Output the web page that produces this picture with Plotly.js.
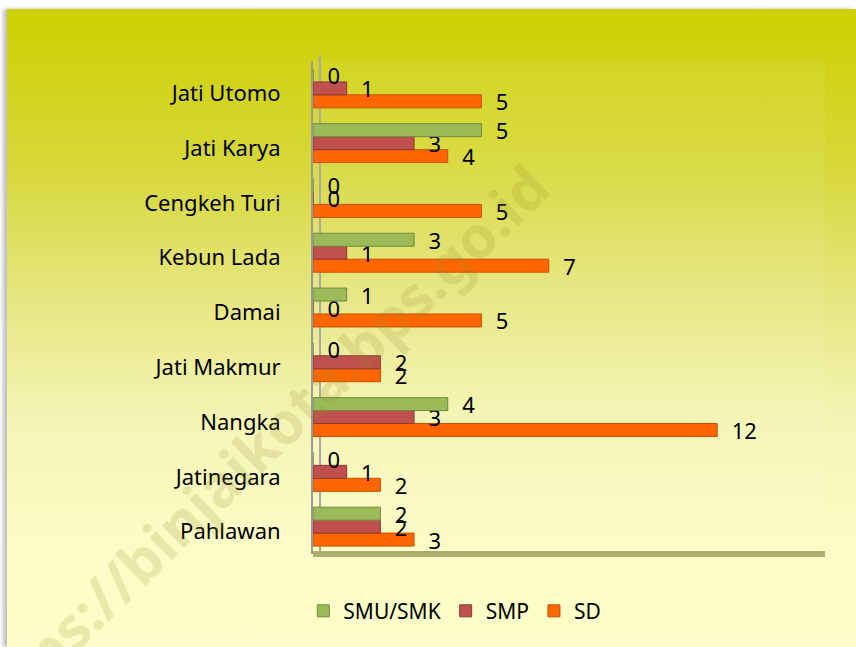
<!DOCTYPE html>
<html>
<head>
<meta charset="utf-8">
<script src="https://cdn.plot.ly/plotly-3.0.1.min.js"></script>
<style>
  html, body { margin:0; padding:0; background:#ffffff; }
  #bg { position:absolute; left:7px; top:9px; width:849px; height:638px;
        background: linear-gradient(to bottom, #cdd000 0%, #d6d83a 25%, #e6e680 45%, #f5f5b6 65%, #fcfcc6 85%, #fdfdc9 100%);
        box-shadow: -4px 0 4px rgba(0,0,0,0.25); }
  #chart { position:absolute; left:0; top:0; width:856px; height:647px; }
</style>
</head>
<body>
<div id="bg"></div>
<div id="chart"></div>
<script>
const categories = ["Pahlawan","Jatinegara","Nangka","Jati Makmur","Damai","Kebun Lada","Cengkeh Turi","Jati Karya","Jati Utomo"];
const smu = [2,0,4,0,1,3,0,5,0];
const smp = [2,1,3,2,0,1,0,3,1];
const sd  = [3,2,12,2,5,7,5,4,5];

const font = "Noto Sans, Open Sans, sans-serif";
function tr(name, vals, color, line) {
  return {
    type:'bar', orientation:'h', name:name, y:categories, x:vals,
    marker:{color:color, line:{color:line, width:1}},
    text: vals.map(v => '  ' + v), textposition:'outside', cliponaxis:false,
    constraintext:'none',
    textfont:{family:font, size:22, color:'#000'},
    hoverinfo:'x+name'
  };
}
const data = [
  tr('SD', sd, '#ff6600', '#c84f00'),
  tr('SMP', smp, '#c0504d', '#8c3836'),
  tr('SMU/SMK', smu, '#9bbb59', '#71893f')
];

const layout = {
  width:856, height:647,
  margin:{l:313, r:31, t:61, b:93},
  paper_bgcolor:'rgba(0,0,0,0)', plot_bgcolor:'rgba(255,255,230,0.08)',
  barmode:'group', bargap:0.29, bargroupgap:0,
  font:{family:font, size:22, color:'#000'},
  xaxis:{range:[0,15.2], showgrid:false, zeroline:false, showticklabels:false, showline:false, fixedrange:true},
  yaxis:{showgrid:false, zeroline:false, showline:true, linecolor:'#9a9a9a', linewidth:2,
         ticks:'', ticklabelstandoff:26, ticklabelshift:5, tickfont:{family:font, size:22, color:'#000'}},
  showlegend:true,
  legend:{orientation:'h', traceorder:'reversed', x:0.277, xanchor:'center', y:-0.116, yanchor:'middle',
          font:{family:font, size:21, color:'#000'}, bgcolor:'rgba(0,0,0,0)', itemwidth:30},
  shapes:[
    {type:'rect', xref:'paper', yref:'paper', x0:0, x1:1, y0:-0.006, y1:0.006, fillcolor:'#aeae6e', line:{width:0}, layer:'below'},
    {type:'line', xref:'paper', yref:'paper', x0:0.0137, x1:0.0137, y0:0.006, y1:1.012, line:{color:'#a8a8a8', width:2}, layer:'below'}
  ],
  annotations:[
    {text:'https://binjaikota.bps.go.id', xref:'paper', yref:'paper', x:-0.115, y:0.211, xanchor:'center', yanchor:'middle', showarrow:false,
     textangle:-44, font:{family:font, size:58, color:'rgba(150,140,40,0.18)', weight:'bold'}}
  ]
};
Plotly.newPlot('chart', data, layout, {displayModeBar:false, staticPlot:true});
</script>
</body>
</html>
